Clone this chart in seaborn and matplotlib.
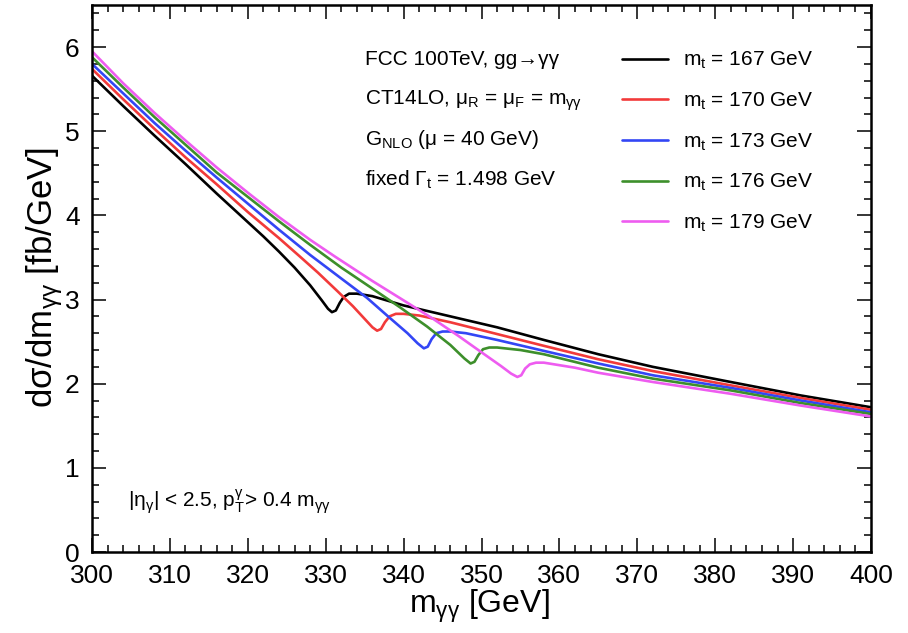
import numpy as np
import pandas as pd
import matplotlib
matplotlib.use("Agg")
import matplotlib.pyplot as plt
from matplotlib.ticker import MultipleLocator
import seaborn as sns

# ---- data ----
x_167 = [300, 304, 308, 312, 316, 320, 322, 324, 326, 328, 329.5, 330.3, 330.8, 331.3, 331.8, 332.3, 333, 334,
         336, 340, 346, 352, 358, 365, 372, 382, 391, 400]
y_167 = [5.66, 5.30, 4.95, 4.61, 4.26, 3.92, 3.75, 3.57, 3.38, 3.17, 2.99, 2.89, 2.85, 2.87, 2.96, 3.03, 3.07, 3.07,
         3.04, 2.93, 2.80, 2.67, 2.52, 2.35, 2.20, 2.02, 1.86, 1.72]

x_170 = [300, 304, 308, 312, 316, 320, 324, 326.7, 329, 331.5, 333.5, 335, 336, 336.6, 337.1, 337.6, 338.2,
         339, 340, 342, 346, 352, 358, 365, 372, 382, 391, 400]
y_170 = [5.74, 5.38, 5.03, 4.69, 4.37, 4.04, 3.73, 3.51, 3.32, 3.10, 2.92, 2.77, 2.67, 2.63, 2.65, 2.73, 2.80,
         2.83, 2.83, 2.81, 2.73, 2.59, 2.45, 2.29, 2.15, 1.98, 1.83, 1.69]

x_173 = [300, 304, 308, 312, 316, 320, 324, 328, 332, 335.3, 338, 340.5, 341.8, 342.6, 343.1, 343.6, 344.2,
         345, 346, 348, 352, 358, 365, 372, 382, 391, 400]
y_173 = [5.80, 5.45, 5.10, 4.77, 4.45, 4.14, 3.83, 3.53, 3.25, 3.02, 2.80, 2.60, 2.48, 2.42, 2.44, 2.53, 2.60,
         2.62, 2.62, 2.60, 2.52, 2.39, 2.24, 2.10, 1.95, 1.80, 1.66]

x_176 = [300, 304, 308, 312, 316, 320, 324, 328, 332, 336, 339.5, 343, 346, 347.8, 348.6, 349.1, 349.6,
         350.2, 351, 352, 355, 358, 365, 372, 382, 391, 400]
y_176 = [5.88, 5.52, 5.17, 4.84, 4.51, 4.22, 3.93, 3.65, 3.38, 3.13, 2.91, 2.68, 2.46, 2.30, 2.24, 2.26, 2.34,
         2.41, 2.43, 2.43, 2.40, 2.35, 2.19, 2.06, 1.92, 1.77, 1.64]

x_179 = [300, 304, 308, 312, 316, 320, 324, 328, 331.2, 336, 340, 343.8, 347, 350.2, 352.5, 353.8, 354.6,
         355.1, 355.6, 356.2, 357, 358, 362, 365, 372, 382, 391, 400]
y_179 = [5.95, 5.57, 5.22, 4.89, 4.57, 4.27, 3.98, 3.71, 3.51, 3.22, 2.99, 2.77, 2.57, 2.36, 2.21, 2.12, 2.08,
         2.10, 2.18, 2.23, 2.25, 2.25, 2.19, 2.13, 2.02, 1.88, 1.74, 1.61]

mt_labels = ["167", "170", "173", "176", "179"]
colors = ["#000000", "#f23a3a", "#3346f5", "#3d8f2b", "#ee5cf0"]

series = [(x_167, y_167), (x_170, y_170), (x_173, y_173), (x_176, y_176), (x_179, y_179)]
frames = []
for lab, (xs, ys) in zip(mt_labels, series):
    frames.append(pd.DataFrame({"m": xs, "val": ys, "mt": lab}))
df = pd.concat(frames, ignore_index=True)

# ---- style ----
sns.set_style("ticks")
plt.rcParams["font.family"] = ["Liberation Sans", "DejaVu Sans"]
plt.rcParams["mathtext.fontset"] = "custom"
plt.rcParams["mathtext.rm"] = "Liberation Sans"
plt.rcParams["mathtext.it"] = "Liberation Sans"
plt.rcParams["mathtext.bf"] = "Liberation Sans:bold"
plt.rcParams["mathtext.default"] = "regular"
for k in ["text.color", "axes.labelcolor", "xtick.color", "ytick.color", "axes.edgecolor"]:
    plt.rcParams[k] = "black"

W, H = 908, 633
fig = plt.figure(figsize=(W / 100, H / 100), dpi=100)
ax = fig.add_axes([92 / W, (H - 552) / H, 779 / W, 547 / H])

sns.lineplot(data=df, x="m", y="val", hue="mt", palette=dict(zip(mt_labels, colors)),
             estimator=None, sort=False, linewidth=1.9, legend=False, ax=ax)

ax.set_xlim(300, 400)
ax.set_ylim(0, 6.5)
ax.set_xlabel("")
ax.set_ylabel("")
ax.xaxis.set_major_locator(MultipleLocator(10))
ax.xaxis.set_minor_locator(MultipleLocator(2))
ax.yaxis.set_major_locator(MultipleLocator(1))
ax.yaxis.set_minor_locator(MultipleLocator(0.2))
ax.tick_params(which="both", direction="in", top=True, right=True, width=1.1, labelsize=19)
ax.tick_params(which="major", length=10)
ax.tick_params(which="minor", length=5)
ax.tick_params(axis="x", pad=8.5)
ax.tick_params(axis="y", pad=9)
for s in ax.spines.values():
    s.set_linewidth(1.8)
    s.set_visible(True)

# legend
handles = ax.get_lines()[:5]
labels = [r"m$_t$ = %s GeV" % m for m in mt_labels]
leg = ax.legend(handles, labels, loc="upper left",
                bbox_to_anchor=(622 / W, 1 - 50 / H), bbox_transform=fig.transFigure,
                frameon=False, fontsize=15, handlelength=2.2, handletextpad=0.75,
                labelspacing=0.93, borderpad=0, borderaxespad=0)

# annotations
tx = 365 / W
fs = 15
fig.text(tx, 1 - 65 / H, "FCC 100TeV, gg\u2192\u03b3\u03b3", fontsize=fs, va="baseline")
fig.text(tx, 1 - 105 / H, "CT14LO, \u03bc$_R$ = \u03bc$_F$ = m$_{\u03b3\u03b3}$", fontsize=fs, va="baseline")
fig.text(tx, 1 - 145 / H, "G$_{NLO}$ (\u03bc = 40 GeV)", fontsize=fs, va="baseline")
fig.text(tx, 1 - 186 / H, "fixed \u0393$_t$ = 1.498 GeV", fontsize=fs, va="baseline")
fig.text(128 / W, 1 - 507 / H, "|\u03b7$_{\u03b3}$| < 2.5, p$_T^{\u03b3}$> 0.4 m$_{\u03b3\u03b3}$",
         fontsize=fs, va="baseline")

# axis titles
fig.text(479 / W, 1 - 613 / H, "m$_{\u03b3\u03b3}$ [GeV]", fontsize=23, ha="center", va="baseline")
fig.text(52 / W, 1 - 277 / H, "d\u03c3/dm$_{\u03b3\u03b3}$ [fb/GeV]",
         fontsize=25, ha="center", va="baseline", rotation=90, rotation_mode="anchor")

fig.savefig("out.png", dpi=100)
